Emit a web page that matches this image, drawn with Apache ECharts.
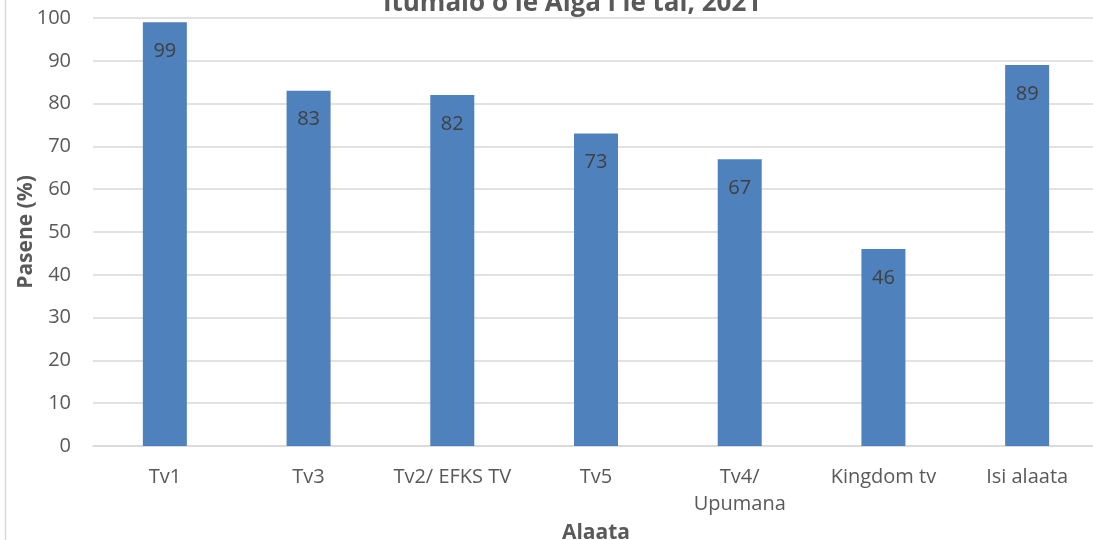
<!DOCTYPE html>
<html>
<head>
<meta charset="utf-8">
<script src="https://cdn.jsdelivr.net/npm/echarts@6/dist/echarts.min.js"></script>
<style>
  html, body { margin: 0; padding: 0; background: #fff; }
  #chart { width: 1093px; height: 540px; }
</style>
</head>
<body>
<div id="chart"></div>
<script>
// data
var categories = ['Tv1', 'Tv3', 'Tv2/ EFKS TV', 'Tv5', 'Tv4/\nUpumana', 'Kingdom tv', 'Isi alaata'];
var values = [99, 83, 82, 73, 67, 46, 89];
var yTicks = { min: 0, max: 100, interval: 10 };

var font = 'Open Sans';
var myChart = echarts.init(document.getElementById('chart'));

var option = {
    animation: false,
    title: {
        text: 'Itumalo o le Aiga i le tai, 2021',
        left: 567,
        textAlign: 'center',
        top: -14,
        textStyle: { fontFamily: font, fontSize: 26, fontWeight: 'bold', color: '#595959' }
    },
    graphic: [
        {
            type: 'line',
            shape: { x1: 5.5, y1: 0, x2: 5.5, y2: 540 },
            style: { stroke: '#d9d9d9', lineWidth: 1.5 }
        }
    ],
    grid: { left: 93, right: -6, top: 18, bottom: 94, outerBoundsMode: 'none' },
    xAxis: {
        type: 'category',
        data: categories,
        name: 'Alaata',
        nameLocation: 'middle',
        nameGap: 67,
        nameTextStyle: { fontFamily: font, fontSize: 21, fontWeight: 'bold', color: '#595959' },
        axisLine: { lineStyle: { color: '#d9d9d9', width: 1.5 } },
        axisTick: { show: false },
        axisLabel: {
            interval: 0,
            margin: 18,
            fontFamily: font,
            fontSize: 20,
            lineHeight: 27,
            color: '#595959'
        }
    },
    yAxis: {
        type: 'value',
        min: yTicks.min,
        max: yTicks.max,
        interval: yTicks.interval,
        name: 'Pasene (%)',
        nameLocation: 'middle',
        nameGap: 56,
        nameMoveOverlap: false,
        nameTextStyle: { fontFamily: font, fontSize: 21, fontWeight: 'bold', color: '#595959' },
        axisLine: { show: false },
        axisTick: { show: false },
        axisLabel: { margin: 22, fontFamily: font, fontSize: 20, color: '#595959' },
        splitLine: { lineStyle: { color: '#d9d9d9', width: 1.5 } }
    },
    series: [
        {
            type: 'bar',
            data: values,
            barWidth: 44,
            itemStyle: { color: '#4f81bd' },
            label: {
                show: true,
                position: 'insideTop',
                distance: 19,
                fontFamily: font,
                fontSize: 20,
                color: '#404040'
            }
        }
    ]
};

myChart.setOption(option);
window.addEventListener('resize', function () {
    myChart.resize();
});
</script>
</body>
</html>
